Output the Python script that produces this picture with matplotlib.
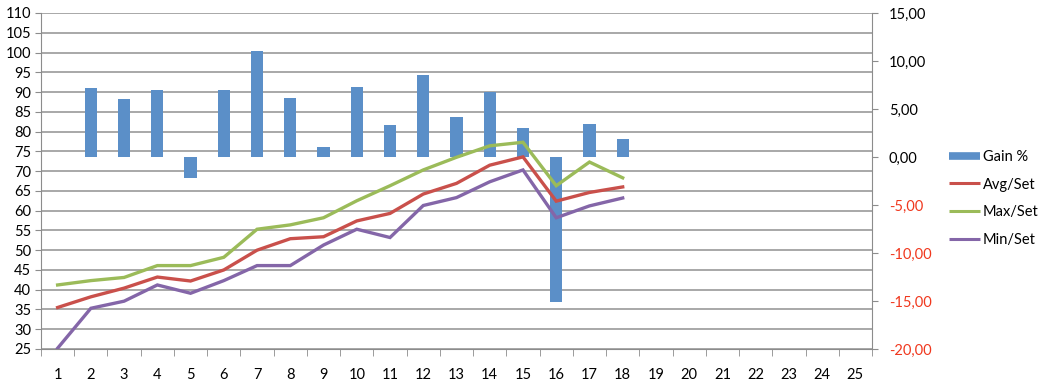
import matplotlib
matplotlib.use("Agg")
import matplotlib.pyplot as plt
from matplotlib.lines import Line2D
from matplotlib.ticker import FuncFormatter

categories = list(range(1, 26))
gain_x = list(range(2, 19))
gain_pct = [7.15, 6.05, 6.95, -2.2, 6.95, 11.0, 6.15, 1.05, 7.3, 3.3, 8.5, 4.15, 6.8, 3.05, -15.1, 3.45, 1.9]
line_x = list(range(1, 19))
avg_set = [35.5, 38.2, 40.4, 43.2, 42.2, 45.0, 50.0, 52.9, 53.4, 57.4, 59.3, 64.2, 66.9, 71.5, 73.6, 62.4, 64.6, 66.0]
max_set = [41.2, 42.3, 43.1, 46.1, 46.1, 48.2, 55.3, 56.4, 58.2, 62.5, 66.3, 70.3, 73.5, 76.4, 77.3, 66.3, 72.3, 68.3]
min_set = [25.2, 35.3, 37.1, 41.2, 39.1, 42.3, 46.1, 46.1, 51.3, 55.3, 53.2, 61.3, 63.3, 67.3, 70.3, 58.2, 61.2, 63.2]

BAR = "#5B8FC8"
RED = "#C9504B"
GREEN = "#9BBB59"
PURPLE = "#8466A8"
GRID = "#9A9A9A"
SPINE = "#8C8C8C"
NEG = "#F0381E"

plt.rcParams['font.family'] = ['Lato', 'DejaVu Sans']
fs = 10.5

fig = plt.figure(figsize=(10.39, 3.89), dpi=100)
rect = [41/1039, 40/389, (872-41)/1039, (349-13)/389]
ax = fig.add_axes(rect)
ax2 = ax.twinx()
ax3 = ax.twinx()

ax.set_zorder(0)
ax2.set_zorder(1)
ax3.set_zorder(2)
ax2.patch.set_visible(False)
ax3.patch.set_visible(False)

# base axis: left scale + grid
ax.set_xlim(0.5, 25.5)
ax.set_ylim(25, 110)
ax.set_yticks(range(25, 111, 5))
ax.grid(axis='y', color=GRID, linewidth=1.2)
ax.set_axisbelow(True)
ax.set_xticks(categories)
ax.set_xticklabels([str(c) for c in categories], fontsize=fs)
ax.tick_params(axis='x', length=0, pad=14)
ax.set_xticks([c - 0.5 for c in categories] + [25.5], minor=True)
ax.tick_params(axis='x', which='minor', length=5, color=SPINE, direction='out')
ax.tick_params(axis='y', length=4, color=SPINE, labelsize=fs, pad=3)
for s in ['top', 'right']:
    ax.spines[s].set_visible(False)
for s in ['left', 'bottom']:
    ax.spines[s].set_color(SPINE)

# bars on right scale
ax2.set_xlim(0.5, 25.5)
ax2.set_ylim(-20, 15)
ax2.bar(gain_x, gain_pct, width=0.37, color=BAR)
ax2.set_yticks(range(-20, 16, 5))
ax2.yaxis.set_major_formatter(FuncFormatter(lambda v, p: f"{v:.2f}".replace('.', ',')))
ax2.tick_params(axis='y', length=4, color=SPINE, labelsize=fs, pad=8)
for lbl, v in zip(ax2.get_yticklabels(), range(-20, 16, 5)):
    if v < 0:
        lbl.set_color(NEG)
for s in ['top', 'left', 'bottom']:
    ax2.spines[s].set_visible(False)
ax2.spines['right'].set_color(SPINE)

# lines on left scale
ax3.set_xlim(0.5, 25.5)
ax3.set_ylim(25, 110)
lw = 2.4
ax3.plot(line_x, avg_set, color=RED, linewidth=lw, solid_joinstyle='miter')
ax3.plot(line_x, max_set, color=GREEN, linewidth=lw, solid_joinstyle='miter')
ax3.plot(line_x, min_set, color=PURPLE, linewidth=lw, solid_joinstyle='miter')
ax3.set_yticks([])
for s in ax3.spines.values():
    s.set_visible(False)

handles = [Line2D([0], [0], color=BAR, linewidth=5.5, solid_capstyle='butt'),
           Line2D([0], [0], color=RED, linewidth=2.2, solid_capstyle='butt'),
           Line2D([0], [0], color=GREEN, linewidth=2.2, solid_capstyle='butt'),
           Line2D([0], [0], color=PURPLE, linewidth=2.2, solid_capstyle='butt')]
labels = ['Gain %', 'Avg/Set', 'Max/Set', 'Min/Set']
fig.legend(handles, labels, loc='upper left', bbox_to_anchor=(949/1039, 1 - 150/389),
           frameon=False, fontsize=fs, handlelength=2.15, handletextpad=0.15,
           labelspacing=0.93, borderaxespad=0, borderpad=0)

fig.savefig("out.png", dpi=100)
